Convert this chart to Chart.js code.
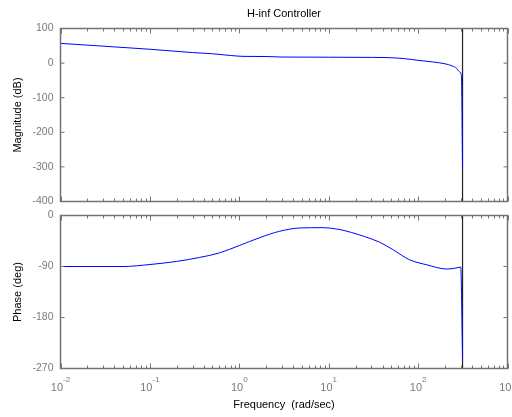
<!DOCTYPE html>
<html>
<head>
<meta charset="utf-8">
<script src="https://cdn.jsdelivr.net/npm/chart.js@4/dist/chart.umd.min.js"></script>
<style>
  html, body { margin: 0; padding: 0; background: #ffffff; }
  #wrap { position: relative; width: 512px; height: 417px; }
  #wrap canvas { position: absolute; left: 0; top: 0; }
</style>
</head>
<body>
<div id="wrap">
  <canvas id="magChart" width="512" height="417"></canvas>
  <canvas id="phaseChart" width="512" height="417"></canvas>
</div>
<script>
// Frequency response of the H-inf controller (rad/sec, dB, deg)
const magFreq  = [0.01, 0.03, 0.1, 0.3, 0.5, 0.8, 1.1, 2, 3, 10, 30, 45, 70, 100, 150, 200, 240, 270, 290, 305, 314.16];
const magDb    = [57, 49, 40, 30.5, 27, 22, 19.5, 19, 17.5, 17, 16.5, 16, 13, 8, 3, -2, -8, -15, -25, -36, -300];

const phaseFreq = [0.01, 0.05, 0.1, 0.2, 0.36, 0.6, 1, 1.7, 2.8, 4.8, 8.5, 13, 18, 25, 37, 52, 80, 125, 210, 260, 300, 314.16];
const phaseDeg  = [-90, -90, -86.5, -81, -74, -66, -53, -39, -28, -22, -21.5, -24.5, -30, -37, -47, -60, -78, -87, -94.5, -93, -91, -252];

// Nyquist frequency marker
const nyquistFreq = 314.16;

// Axis ticks
const magTicks = [100, 0, -100, -200, -300, -400];
const phaseTicks = [0, -90, -180, -270];
const decadeExponents = [-2, -1, 0, 1, 2, 3];

const FONT = '"Liberation Sans", Arial, Helvetica, sans-serif';
const AXIS_COLOR = '#737373';
const TICK_TEXT = '#7a7a7a';

const axesBox = {
  id: 'axesBox',
  afterDatasetsDraw(chart, args, opts) {
    const { ctx, chartArea: a, scales } = chart;
    const xs = scales.x, ys = scales.y;
    ctx.save();
    ctx.strokeStyle = AXIS_COLOR;
    ctx.lineWidth = 1.5;
    ctx.strokeRect(a.left, a.top, a.right - a.left, a.bottom - a.top);
    ctx.lineWidth = 1;
    ctx.beginPath();
    ys.ticks.forEach(t => {
      const y = ys.getPixelForValue(t.value);
      ctx.moveTo(a.left, y); ctx.lineTo(a.left + 4, y);
      ctx.moveTo(a.right, y); ctx.lineTo(a.right - 4, y);
    });
    decadeExponents.forEach(e => {
      for (let m = 1; m <= 9; m++) {
        const v = m * Math.pow(10, e);
        if (v > xs.max * 1.0001) break;
        const x = Math.round(xs.getPixelForValue(v)) + 0.5;
        const len = m === 1 ? 5 : 3;
        ctx.moveTo(x, a.top); ctx.lineTo(x, a.top + len);
        ctx.moveTo(x, a.bottom); ctx.lineTo(x, a.bottom - len);
      }
    });
    ctx.stroke();

    if (opts.title) {
      ctx.fillStyle = '#000';
      ctx.font = '11px ' + FONT;
      ctx.textAlign = 'center';
      ctx.textBaseline = 'middle';
      ctx.fillText(opts.title, (a.left + a.right) / 2, 13.5);
    }
    if (opts.decadeLabels) {
      ctx.fillStyle = TICK_TEXT;
      ctx.textBaseline = 'alphabetic';
      ctx.textAlign = 'left';
      decadeExponents.forEach(e => {
        const x = xs.getPixelForValue(Math.pow(10, e));
        const base = '10', sup = String(e);
        ctx.font = '11px ' + FONT;
        const wb = ctx.measureText(base).width;
        ctx.font = '8px ' + FONT;
        const ws = ctx.measureText(sup).width;
        const x0 = x - (wb + ws) / 2;
        ctx.font = '11px ' + FONT;
        ctx.fillText(base, x0, a.bottom + 22);
        ctx.font = '8px ' + FONT;
        ctx.fillText(sup, x0 + wb, a.bottom + 13);
      });
    }
    ctx.restore();
  }
};

function points(xs, ys) { return xs.map((x, i) => ({ x: x, y: ys[i] })); }

function makeChart(id, cfg) {
  return new Chart(document.getElementById(id), {
    type: 'line',
    data: {
      datasets: [
        {
          data: points(cfg.freq, cfg.values),
          borderColor: '#0000ff',
          borderWidth: 1,
          pointRadius: 0,
          cubicInterpolationMode: 'monotone'
        },
        {
          data: points([nyquistFreq, nyquistFreq], [cfg.ticks[0], cfg.ticks[cfg.ticks.length - 1]]),
          borderColor: '#222222',
          borderWidth: 1.2,
          pointRadius: 0
        }
      ]
    },
    options: {
      responsive: false,
      animation: false,
      events: [],
      layout: { padding: cfg.padding },
      plugins: {
        legend: { display: false },
        tooltip: { enabled: false },
        axesBox: cfg.box
      },
      scales: {
        x: {
          type: 'logarithmic',
          min: 0.01,
          max: 1000,
          display: cfg.showX,
          grid: { display: false, drawTicks: false },
          border: { display: false },
          ticks: { display: false },
          title: {
            display: cfg.showX,
            text: 'Frequency  (rad/sec)',
            color: '#000',
            font: { family: FONT, size: 11 },
            padding: { top: 0, bottom: 5.4 }
          },
          afterFit: s => { s.height = cfg.showX ? 48.5 : 0; }
        },
        y: {
          min: cfg.ticks[cfg.ticks.length - 1],
          max: cfg.ticks[0],
          grid: { display: false, drawTicks: false },
          border: { display: false },
          afterBuildTicks: s => { s.ticks = cfg.ticks.map(v => ({ value: v })); },
          ticks: {
            color: TICK_TEXT,
            padding: 7,
            font: { family: FONT, size: 10.5 }
          },
          title: {
            display: true,
            text: cfg.yTitle,
            color: '#000',
            font: { family: FONT, size: 11 },
            padding: { top: 11.4, bottom: 0 }
          },
          afterFit: s => { s.width = 60.5; }
        }
      }
    },
    plugins: [axesBox]
  });
}

makeChart('magChart', {
  freq: magFreq, values: magDb, ticks: magTicks,
  yTitle: 'Magnitude (dB)', showX: false,
  padding: { top: 28.5, right: 4.5, bottom: 215.5, left: 0 },
  box: { title: 'H-inf Controller' }
});

makeChart('phaseChart', {
  freq: phaseFreq, values: phaseDeg, ticks: phaseTicks,
  yTitle: 'Phase (deg)', showX: true,
  padding: { top: 215.5, right: 4.5, bottom: 0, left: 0 },
  box: { decadeLabels: true }
});
</script>
</body>
</html>
